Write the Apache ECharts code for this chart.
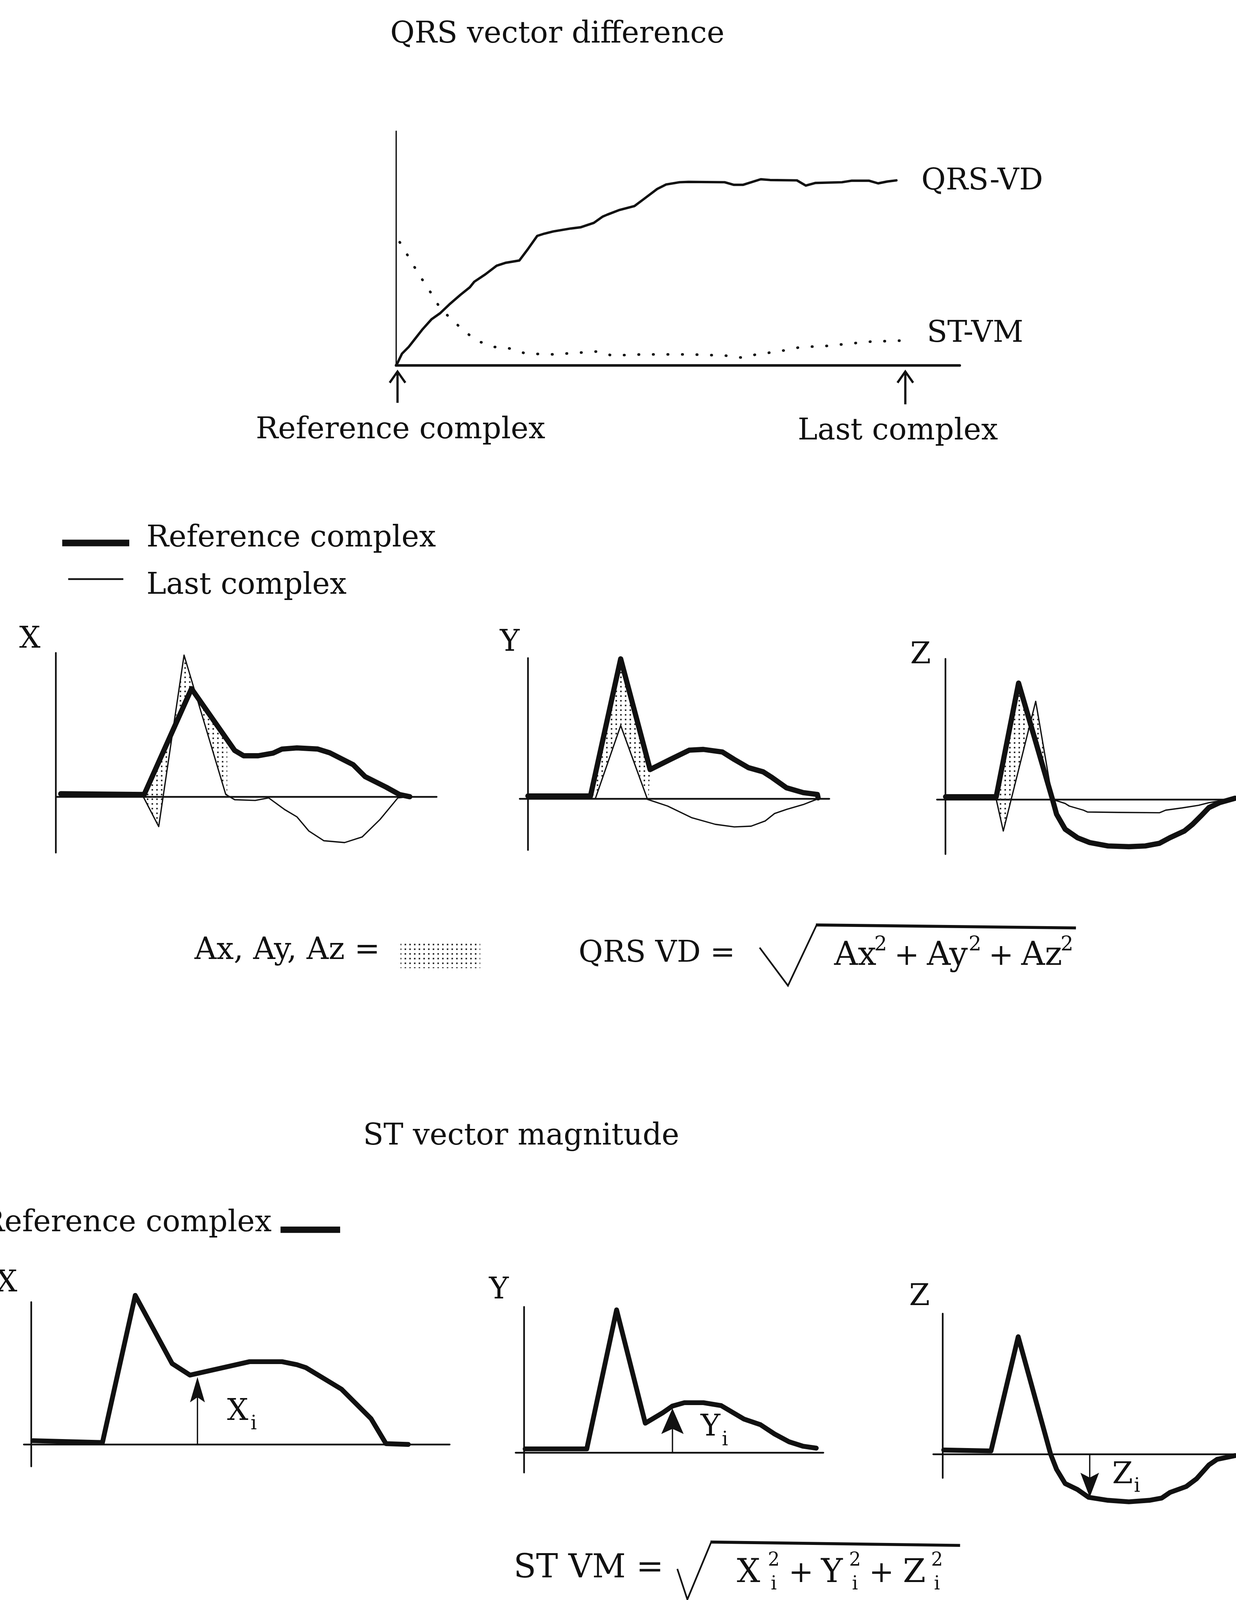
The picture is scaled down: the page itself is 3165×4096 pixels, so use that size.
<!DOCTYPE html>
<html>
<head>
<meta charset="utf-8">
<title>QRS vector difference and ST vector magnitude</title>
<script src="https://cdn.jsdelivr.net/npm/echarts@6/dist/echarts.min.js"></script>
<style>
html,body{margin:0;padding:0;background:#ffffff;}
#chart{width:3165px;height:4096px;}
</style>
</head>
<body>
<div id="chart"></div>
<script>
// ================= DATA =================
// Top trend chart: complex index (x) vs magnitude (y)
const trendQRSVD = [[0,0],[0.4,0.6],[1.6,3.1],[3.4,4.9],[5.2,7.2],[7.0,9.5],[9.5,12.3],[11.9,14.0],[14.3,16.3],[17.3,18.9],[19.8,20.9],[21.0,22.4],[24.0,24.4],[27.0,26.7],[29.5,27.5],[33.1,28.1],[35.5,31.3],[37.9,34.7],[39.8,35.3],[42.2,35.9],[47.0,36.7],[49.5,37.0],[53.1,38.2],[55.5,39.9],[56.7,40.4],[59.8,41.6],[64.0,42.7],[66.4,44.5],[70.1,47.3],[72.5,48.5],[76.1,49.1],[78.5,49.2],[88.2,49.1],[90.7,48.4],[93.1,48.4],[97.9,49.9],[100.4,49.7],[107.6,49.6],[110.0,48.2],[112.5,48.9],[119.7,49.1],[122.2,49.5],[127.0,49.5],[129.4,48.8],[131.9,49.3],[134.3,49.6]];
const trendSTVM = [[1.0,33.0],[3.4,29.0],[5.8,24.9],[9.5,19.2],[11.9,15.2],[14.3,12.9],[17.9,9.5],[21.6,6.6],[26.4,4.9],[30.1,4.6],[34.9,3.1],[42.2,2.9],[54.3,3.7],[57.9,2.6],[66.4,2.9],[78.5,2.9],[88.2,2.6],[93.1,2.0],[96.7,2.9],[102.8,3.7],[108.8,4.9],[114.9,5.1],[120.9,5.7],[127.0,6.3],[135.5,6.6]];
// arrows under the trend axis: [x, yFrom, yTip]  (reference complex, last complex)
const trendArrows = [[0.4,-10.1,-1.7],[136.7,-10.5,-1.7]];

// QRS VD panels: reference complex (thick) and last complex (thin)
const qrsRefX = [[1.3,0.8],[23.7,0.6],[36.4,29.0],[48.0,12.4],[50.4,11.0],[54.3,11.0],[58.3,11.7],[60.7,12.8],[64.7,13.1],[70.3,12.8],[73.5,11.8],[79.8,8.6],[83.0,5.4],[88.6,2.6],[92.2,0.6],[95.0,0]];
const qrsLastX = [[1.3,0],[23.3,0.3],[27.6,-8.0],[34.4,38.0],[45.6,0.6],[48.0,-0.8],[53.5,-1.0],[57.1,-0.3],[61.5,-3.5],[64.7,-5.4],[67.9,-9.2],[71.9,-11.8],[77.5,-12.3],[82.2,-10.8],[87.0,-6.1],[91.8,-0.3],[95.0,0]];
const qrsAreaX = [
  [[23.7,0.6],[31.4,17.9],[27.6,-8.0],[23.3,0.3]],
  [[31.4,17.9],[34.4,38.0],[37.6,27.3],[36.4,29.0]],
  [[37.6,27.3],[46.0,15.3],[46.0,0.6],[45.6,0.6]]
];
const qrsRefY = [[0,0.7],[16.8,0.7],[24.9,37.5],[32.8,7.8],[38.2,10.5],[43.3,13.0],[47.1,13.2],[52.2,12.5],[55.4,10.5],[59.2,8.3],[63.1,7.2],[65.6,5.6],[69.4,2.9],[73.9,1.6],[77.7,1.1],[77.9,0.2]];
const qrsLastY = [[0,0],[18.1,0],[24.9,19.6],[32.1,-0.2],[37.5,-2.0],[43.9,-5.1],[50.3,-6.9],[55.4,-7.6],[59.9,-7.4],[63.7,-6.0],[66.2,-4.0],[69.4,-2.9],[73.9,-1.6],[78.0,0]];
const qrsAreaY = [
  [[16.8,0.7],[24.9,37.5],[32.8,7.8],[32.4,0],[24.9,19.6],[18.1,0]]
];
const qrsRefZ = [[0.1,0.7],[13.7,0.7],[19.7,31.2],[28.8,0],[29.9,-4.0],[32.2,-8.0],[35.5,-10.3],[38.8,-11.6],[43.7,-12.5],[49.3,-12.7],[53.7,-12.5],[57.5,-11.8],[60.3,-10.3],[64.2,-8.5],[66.4,-6.7],[68.6,-4.5],[70.8,-2.2],[73.6,-0.9],[77.8,0.3]];
const qrsLastZ = [[0.1,0],[13.7,0],[15.6,-8.5],[24.3,26.3],[28.8,0],[32.2,-1.1],[33.3,-1.8],[37.1,-2.9],[38.2,-3.4],[46.5,-3.5],[57.5,-3.6],[59.2,-2.9],[63.6,-2.3],[68.0,-1.6],[70.8,-0.9],[77.8,0.3]];
const qrsAreaZ = [
  [[13.7,0.7],[19.7,31.2],[22.9,20.5],[15.6,-8.5],[13.7,0]],
  [[22.9,20.5],[24.3,26.3],[28.8,0]]
];

// ST VM panels: reference complex and the sampled ST value (arrow: [x, from, tip])
const stRefX = [[0.4,1.0],[19.1,0.5],[27.9,40.0],[37.8,21.7],[42.6,18.6],[58.6,22.2],[67.3,22.2],[71.3,21.4],[73.7,20.6],[83.3,14.8],[91.2,6.9],[95.2,0.2],[101.2,0]];
const stArrowX = [[44.6,0,18.1]];
const stRefY = [[0.35,1.0],[16.9,1.0],[24.9,38.3],[32.6,7.9],[37.3,10.7],[39.9,12.5],[43.1,13.4],[48.2,13.4],[53.0,12.6],[59.1,9.0],[63.5,7.5],[67.3,5.0],[71.2,2.9],[75.0,1.7],[78.5,1.2]];
const stArrowY = [[39.9,0,11.9]];
const stRefZ = [[0.3,1.1],[13.0,0.85],[20.3,31.5],[29.0,0],[30.6,-4.1],[32.9,-7.9],[36.2,-9.5],[39.2,-11.6],[44.4,-12.4],[50.0,-12.8],[55.5,-12.4],[58.8,-11.8],[61.0,-10.3],[65.4,-8.7],[68.2,-6.6],[71.5,-2.9],[73.7,-1.4],[78.5,-0.4]];
const stArrowZ = [[39.5,0,-11.6]];

// ================= LAYOUT / STYLE =================
const S = 0.954;                 // reference px -> window px
const s = v => v * S;
const INK = '#111111';
const SERIF = '"DejaVu Serif", "Liberation Serif", serif';
const UNIT = 10;                 // reference px per data unit
// ox/oy = where the axes cross (reference px); x/y = axis ranges (data units)
const LAYOUT = [
  {ox:1063, oy:980,  x:[0,151.3],   y:[0,62.8],     xw:7,   yw:3.5},
  {ox:150,  oy:2138, x:[0,102.2],   y:[-15,38.6],   xw:4.5, yw:4.5},
  {ox:1417, oy:2143, x:[-2.2,80.9], y:[-13.8,37.7], xw:4.5, yw:4.5},
  {ox:2537, oy:2145, x:[-2.2,78.3], y:[-14.7,37.7], xw:4.5, yw:4.5},
  {ox:84,   oy:3876, x:[-2.0,112.3],y:[-5.9,38.2],  xw:4.5, yw:4.5},
  {ox:1406, oy:3898, x:[-2.2,80.4], y:[-5.35,39.1], xw:4.5, yw:4.5},
  {ox:2530, oy:3902, x:[-2.5,79.0], y:[-6.4,37.7],  xw:4.5, yw:4.5}
];

// stipple pattern for the difference areas
function makeDots() {
  const c = document.createElement('canvas');
  c.width = 12; c.height = 12;
  const g = c.getContext('2d');
  g.fillStyle = '#333333';
  g.fillRect(4, 4, 4, 4);
  return c;
}
const DOTS = {image: makeDots(), repeat: 'repeat'};

const grids = LAYOUT.map(p => ({
  left: s(p.ox + p.x[0] * UNIT),
  top: s(p.oy - p.y[1] * UNIT),
  width: s((p.x[1] - p.x[0]) * UNIT),
  height: s((p.y[1] - p.y[0]) * UNIT),
  containLabel: false, outerBoundsMode: 'none', show: false
}));
const axisBase = w => ({
  type: 'value',
  axisLine: {show: true, onZero: true, lineStyle: {color: INK, width: s(w)}},
  axisTick: {show: false}, axisLabel: {show: false},
  splitLine: {show: false}, splitArea: {show: false}
});
const xAxes = LAYOUT.map((p, i) => Object.assign(axisBase(p.xw), {gridIndex: i, min: p.x[0], max: p.x[1]}));
const yAxes = LAYOUT.map((p, i) => Object.assign(axisBase(p.yw), {gridIndex: i, min: p.y[0], max: p.y[1]}));

function lineS(i, data, w, extra) {
  return Object.assign({
    type: 'line', xAxisIndex: i, yAxisIndex: i, data: data,
    symbol: 'none', showSymbol: false, clip: false, silent: true, animation: false, z: 3,
    lineStyle: {color: INK, width: s(w), join: 'round', cap: 'round'}
  }, extra || {});
}
function areaS(i, polys) {
  return {
    type: 'custom', xAxisIndex: i, yAxisIndex: i, coordinateSystem: 'cartesian2d',
    clip: false, silent: true, animation: false, z: 2,
    data: polys.map((p, k) => [k, 0]),
    renderItem: (params, api) => ({
      type: 'polygon',
      shape: {points: polys[params.dataIndex].map(pt => api.coord(pt))},
      style: {fill: DOTS, stroke: null}
    })
  };
}
// vertical arrows placed by data: item = [x, yFrom, yTip]
function arrowS(i, list, head, w, open) {
  return {
    type: 'custom', xAxisIndex: i, yAxisIndex: i, coordinateSystem: 'cartesian2d',
    clip: false, silent: true, animation: false, z: 4,
    data: list,
    renderItem: (params, api) => {
      const a = api.coord([api.value(0), api.value(1)]);
      const b = api.coord([api.value(0), api.value(2)]);
      const d = b[1] > a[1] ? 1 : -1;
      const hw = s(head[0]) / 2, hh = s(head[1]);
      const kids = [{
        type: 'line',
        shape: {x1: a[0], y1: a[1], x2: b[0], y2: b[1] - d * (open ? 0 : hh * 0.6)},
        style: {stroke: INK, lineWidth: s(w)}
      }];
      if (open) {
        kids.push({type: 'polyline',
          shape: {points: [[b[0] - hw, b[1] - d * hh], [b[0], b[1]], [b[0] + hw, b[1] - d * hh]]},
          style: {stroke: INK, lineWidth: s(w), fill: null, lineJoin: 'miter'}});
      } else {
        kids.push({type: 'polygon',
          shape: {points: [[b[0], b[1]], [b[0] + hw, b[1] - d * hh], [b[0], b[1] - d * hh * 0.8], [b[0] - hw, b[1] - d * hh]]},
          style: {fill: INK, stroke: null}});
      }
      return {type: 'group', children: kids};
    }
  };
}

const series = [
  // top trend chart
  lineS(0, trendQRSVD, 6.5),
  lineS(0, trendSTVM, 7, {lineStyle: {color: INK, width: s(7), type: [1, s(38)], cap: 'round'}}),
  arrowS(0, trendArrows, [42, 30], 6, true),
  // QRS VD panels
  areaS(1, qrsAreaX), lineS(1, qrsRefX, 14), lineS(1, qrsLastX, 3.5),
  areaS(2, qrsAreaY), lineS(2, qrsRefY, 14), lineS(2, qrsLastY, 3.5),
  areaS(3, qrsAreaZ), lineS(3, qrsRefZ, 14), lineS(3, qrsLastZ, 3.5),
  // ST VM panels
  lineS(4, stRefX, 13), arrowS(4, stArrowX, [40, 68], 3.5, false),
  lineS(5, stRefY, 13), arrowS(5, stArrowY, [60, 69], 3.5, false),
  lineS(6, stRefZ, 13), arrowS(6, stArrowZ, [50, 66], 3.5, false)
];

// ================= TEXT & DECORATION =================
const F = 80, F2 = 88, FS = 54, FS2 = 52;
const TEXTS = [
  ['QRS vector difference', 1496, 93, F, 'center'],
  ['QRS-VD', 2473, 488, F, 'left'],
  ['ST-VM', 2488, 896, F, 'left'],
  ['Reference complex', 1075, 1155, F, 'center'],
  ['Last complex', 2410, 1158, F, 'center'],
  ['Reference complex', 393, 1446, F, 'left'],
  ['Last complex', 393, 1572, F, 'left'],
  ['X', 80, 1717, F, 'center'],
  ['Y', 1368, 1726, F, 'center'],
  ['Z', 2471, 1759, F, 'center'],
  ['Ax, Ay, Az =', 522, 2552, 82, 'left'],
  ['QRS VD =', 1553, 2560, F, 'left'],
  ['Ax', 2239, 2566, F2, 'left'], ['2', 2364, 2536, FS, 'center'],
  ['+', 2434, 2568, F, 'center'],
  ['Ay', 2488, 2566, F2, 'left'], ['2', 2617, 2536, FS, 'center'],
  ['+', 2687, 2568, F, 'center'],
  ['Az', 2741, 2566, F2, 'left'], ['2', 2864, 2536, FS, 'center'],
  ['ST vector magnitude', 1399, 3050, F, 'center'],
  ['Reference complex', 729, 3283, F, 'right'],
  ['X', 18, 3445, F, 'center'],
  ['Y', 1339, 3463, F, 'center'],
  ['Z', 2468, 3481, F, 'center'],
  ['X', 638, 3789, F, 'center'], ['i', 681, 3822, FS2, 'center'],
  ['Y', 1907, 3831, F, 'center'], ['i', 1946, 3865, FS2, 'center'],
  ['Z', 3013, 3959, F, 'center'], ['i', 3052, 3990, FS2, 'center'],
  ['ST VM =', 1580, 4210, F2, 'center'],
  ['X', 2009, 4222, F2, 'center'], ['2', 2077, 4188, 50, 'center'], ['i', 2077, 4252, 50, 'center'],
  ['+', 2150, 4224, F, 'center'],
  ['Y', 2233, 4222, F2, 'center'], ['2', 2295, 4188, 50, 'center'], ['i', 2295, 4252, 50, 'center'],
  ['+', 2366, 4224, F, 'center'],
  ['Z', 2454, 4222, F2, 'center'], ['2', 2515, 4188, 50, 'center'], ['i', 2515, 4252, 50, 'center']
];
const graphics = TEXTS.map(t => ({
  type: 'text', x: s(t[1]), y: s(t[2]), silent: true, z: 10,
  style: {text: t[0], fill: INK, font: s(t[3]).toFixed(1) + 'px ' + SERIF, align: t[4], verticalAlign: 'middle'}
}));
const seg = (x1, y1, x2, y2, w) => ({
  type: 'line', silent: true, z: 10,
  shape: {x1: s(x1), y1: s(y1), x2: s(x2), y2: s(y2)},
  style: {stroke: INK, lineWidth: s(w), lineCap: 'butt'}
});
const poly = (pts, w) => ({
  type: 'polyline', silent: true, z: 10,
  shape: {points: pts.map(p => [s(p[0]), s(p[1])])},
  style: {stroke: INK, lineWidth: s(w), fill: null, lineJoin: 'miter'}
});
graphics.push(
  seg(167, 1457, 347, 1457, 18),          // legend: reference complex (thick)
  seg(183, 1554, 331, 1554, 4.5),         // legend: last complex (thin)
  seg(753, 3300, 913, 3300, 17),          // ST legend: reference complex
  {type: 'rect', silent: true, z: 10, shape: {x: s(1075), y: s(2526), width: s(214), height: s(72)}, style: {fill: DOTS, stroke: null}},
  poly([[2039, 2543], [2115, 2645], [2192, 2482]], 4.5),
  seg(2190, 2482, 2888, 2490, 8),
  poly([[1818, 4210], [1845, 4292], [1909, 4138]], 4.5),
  seg(1907, 4138, 2577, 4147, 8)
);

const chart = echarts.init(document.getElementById('chart'), null, {renderer: 'canvas'});
chart.setOption({
  backgroundColor: '#ffffff',
  animation: false,
  grid: grids,
  xAxis: xAxes,
  yAxis: yAxes,
  series: series,
  graphic: graphics
});
</script>
</body>
</html>
